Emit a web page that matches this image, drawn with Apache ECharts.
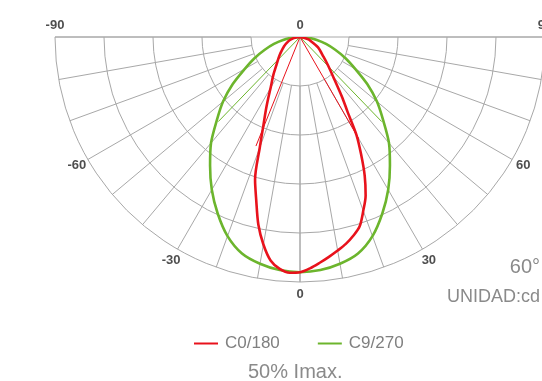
<!DOCTYPE html>
<html><head><meta charset="utf-8">
<script src="https://cdn.jsdelivr.net/npm/echarts@6/dist/echarts.min.js"></script>
<style>html,body{margin:0;padding:0;background:#fff}#c{width:542px;height:381px}</style>
</head><body><div id="c"></div>
<script>
const seriesNames = ['C0/180', 'C9/270'];
const redAngles  = [-90,-80,-75,-70,-60,-50,-45,-40,-35,-30,-27.5,-25,-22.5,-20,-17.5,-15,-12.5,-10,-7.5,-5,-2.5,0,2.5,5,7.5,10,12.5,15,17.5,20,22.5,25,27.5,30,32.5,35,40,45,50,60,68,75,90];
const redValues  = [0,2.5,3.8,5,7.5,10.5,12.5,15,19,24,28,33,39,48,61,69,78.5,86,92,95,96.3,96,94.5,92.5,90.5,88.5,86.5,84,81,75.5,70,62.5,54,46,36,30,21,16,12.5,8.5,5.1,3.5,0];
const greenAngles = [-90,-85,-80,-75,-70,-65,-60,-55,-50,-45,-40,-35,-30,-25,-20,-15,-10,-5,0,5,10,15,20,25,30,35,40,45,50,55,60,65,70,75,80,85,90];
const greenValues = [0,3.5,7,11,15.3,20.5,26,33.5,41,48,56.5,64,72,79.5,86.5,91.5,94,95.5,96,95.5,94,91.5,86.5,79.5,72,64,56.5,48,41,33.5,26,20.5,15.3,11,7,3.5,0];
const redBeamAngles = [-22, 30];
const greenBeamAngles = [-44, 44];
const halfMax = 48;
const tickAngles = [-90, -60, -30, 0, 30, 60, 90];
const tickTexts = ['-90', '-60', '-30', '0', '30', '60', '90'];
const topLabel = '0';

const RED = '#e8121c', GREEN = '#6cb52d', GRID = '#a8a8a8';
const CX = 300, CY = 37, R = 245;
const FONT = '"Liberation Sans", Arial, Helvetica, sans-serif';

function pairs(vals, angs) { return vals.map((v, i) => [v, angs[i]]); }

const labelData = tickAngles.map((a, i) => {
  const edge = Math.abs(a) === 90;
  return {
    value: [edge ? 100 : 105.2, a],
    label: { formatter: tickTexts[i], offset: edge ? [0, -12] : [0, 0] }
  };
});
labelData.push({ value: [0, 0], label: { formatter: topLabel, offset: [0, -12] } });

const chart = echarts.init(document.getElementById('c'), null, { renderer: 'canvas' });
chart.setOption({
  animation: false,
  backgroundColor: '#fff',
  polar: [
    { center: [CX, CY], radius: [R / 5, R] },
    { center: [CX, CY], radius: [0, R] }
  ],
  angleAxis: [
    { polarIndex: 0, type: 'value', min: -90, max: 90, interval: 10, startAngle: 180, endAngle: 360, clockwise: false,
      axisLine: { show: false }, axisTick: { show: false }, axisLabel: { show: false },
      splitLine: { show: true, lineStyle: { color: GRID, width: 1 } } },
    { polarIndex: 1, type: 'value', min: -90, max: 90, interval: 90, startAngle: 180, endAngle: 360, clockwise: false,
      axisLine: { show: false }, axisTick: { show: false }, axisLabel: { show: false },
      splitLine: { show: true, lineStyle: { color: GRID, width: 1 } } }
  ],
  radiusAxis: [
    { polarIndex: 0, type: 'value', min: 0, max: 100, axisLine: { show: false }, axisTick: { show: false },
      axisLabel: { show: false }, splitLine: { show: false } },
    { polarIndex: 1, type: 'value', min: 0, max: 100, interval: 20, axisLine: { show: false }, axisTick: { show: false },
      axisLabel: { show: false }, splitLine: { show: true, lineStyle: { color: GRID, width: 1 } } }
  ],
  legend: {
    data: seriesNames, top: 330, left: 189, icon: 'rect', itemWidth: 24, itemHeight: 2, itemGap: 38,
    textStyle: { color: '#808080', fontSize: 17, fontFamily: FONT, padding: [0, 0, 0, 2] }
  },
  graphic: [
    { type: 'text', right: 2, top: 257, style: { text: '60°', fill: '#8a8a8a', font: '20px ' + FONT } },
    { type: 'text', right: 2, top: 288, style: { text: 'UNIDAD:cd', fill: '#8a8a8a', font: '18px ' + FONT } },
    { type: 'text', left: 248, top: 362, style: { text: '50% Imax.', fill: '#8a8a8a', font: '20px ' + FONT } }
  ],
  series: [
    { type: 'line', coordinateSystem: 'polar', polarIndex: 1, silent: true, symbol: 'none',
      data: [[halfMax, greenBeamAngles[0]], [0, 0], [halfMax, greenBeamAngles[1]]],
      lineStyle: { color: GREEN, width: 1 } },
    { type: 'line', coordinateSystem: 'polar', polarIndex: 1, silent: true, symbol: 'none',
      data: [[halfMax, redBeamAngles[0]], [0, 0], [halfMax, redBeamAngles[1]]],
      lineStyle: { color: RED, width: 1 } },
    { name: seriesNames[1], type: 'line', coordinateSystem: 'polar', polarIndex: 1, symbol: 'none', smooth: 0.3,
      color: GREEN, data: pairs(greenValues, greenAngles), lineStyle: { color: GREEN, width: 2.6 } },
    { name: seriesNames[0], type: 'line', coordinateSystem: 'polar', polarIndex: 1, symbol: 'none', smooth: 0.3,
      color: RED, data: pairs(redValues, redAngles), lineStyle: { color: RED, width: 2.6 } },
    { type: 'scatter', coordinateSystem: 'polar', polarIndex: 1, symbolSize: 0, silent: true, clip: false,
      data: labelData,
      label: { show: true, position: 'inside', color: '#222', fontSize: 13, fontWeight: 'bold', fontFamily: FONT } }
  ]
});
</script></body></html>
